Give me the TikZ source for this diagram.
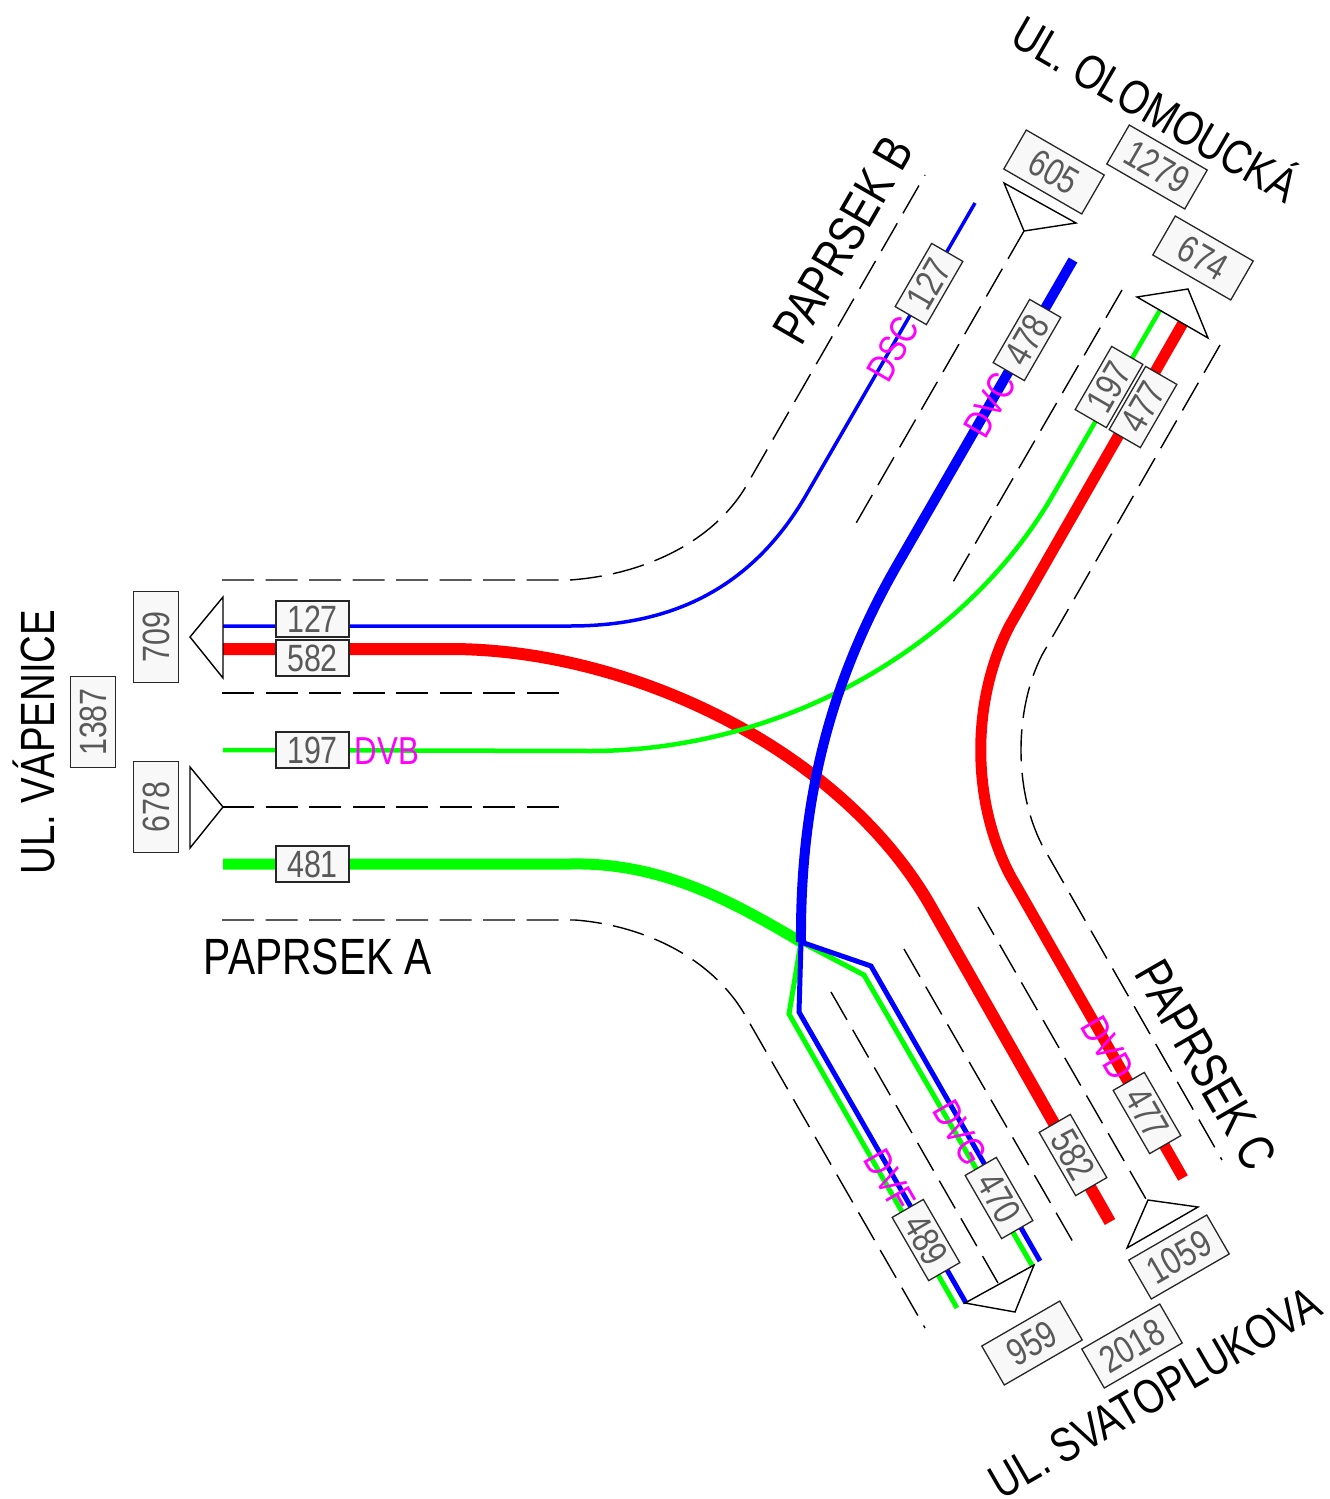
\documentclass[tikz,border=0pt]{standalone}
\usepackage{fontspec}
\setmainfont[FakeStretch=0.8]{Liberation Sans}
\usetikzlibrary{positioning,calc}
\definecolor{boxfill}{HTML}{F8F8F8}
\definecolor{boxtext}{HTML}{595959}
\definecolor{lanecode}{HTML}{FF00FF}
\tikzset{count box/.style={draw=black!85,line width=1.3pt,fill=boxfill,text=boxtext,font=\fontsize{38}{38}\selectfont,inner sep=0pt,minimum width=73pt,minimum height=36pt},
big box/.style={count box,minimum width=90pt,minimum height=45pt},
road name/.style={font=\fontsize{51}{51}\selectfont,inner sep=0pt},
street name/.style={font=\fontsize{48}{48}\selectfont,inner sep=0pt},
lane code/.style={text=lanecode,font=\fontsize{39}{39}\selectfont,inner sep=0pt},
flow/.style={line width=#1,line cap=butt,line join=miter},
kerb/.style={black,line width=1.4pt,dash pattern=on 32pt off 11.5pt},
arm mark/.style={black,line width=1.4pt,line join=miter,fill=white}}

\begin{document}
\begin{tikzpicture}[x=1pt,y=-1pt]
\useasboundingbox (0,0) rectangle (1330,1499);
\coordinate (junction) at (801,942);
% kerbs and lane dividers
\draw[kerb] (222,580) -- (570,580) .. controls (640,575) and (710,545) .. (745,488) -- (925,175);
\draw[kerb] (222,693) -- (560,693);
\draw[kerb] (222,807) -- (560,807);
\draw[kerb] (222,920) -- (575,920) .. controls (640,925) and (710,955) .. (745,1015) -- (925,1328);
\draw[kerb] (1024,231) -- (855,525);
\draw[kerb] (1122,290) -- (953,582);
\draw[kerb] (1220,345) -- (1042,655) .. controls (1014,710) and (1014,790) .. (1042,845) -- (1222,1160);
\draw[kerb] (831,992) -- (998,1283);
\draw[kerb] (904,949) -- (1073,1242);
\draw[kerb] (978,907) -- (1146,1199);
% flows
\draw[flow=3.5pt,blue] (223,626) -- (570,626) .. controls (670,626) and (750,590) .. (805,497) -- (975,203);
\draw[flow=12pt,red] (223,649) -- (450,649) .. controls (630,649) and (840,749) .. (930,905) -- (1110,1222);
\draw[flow=4.5pt,green] (223,750) -- (590,751) .. controls (780,751) and (960,650) .. (1050,500) -- (1160,310);
\draw[flow=11pt,red] (1183,323) -- (1010,625) .. controls (971,700) and (971,800) .. (1010,875) -- (1183,1178);
\draw[flow=11pt,green] (223,864) -- (570,864) .. controls (660,862) and (730,900) .. (junction);
\draw[flow=5pt,green] (junction) -- (864,975) -- (1033,1267);
\draw[flow=5pt,green] (junction) -- (789,1014) -- (957,1308);
\draw[flow=5pt,blue] (junction) -- (871,966) -- (1040,1261);
\draw[flow=5pt,blue] (junction) -- (799,1012) -- (966,1303);
\draw[flow=10pt,blue] (1073,260) -- (900,560) .. controls (830,680) and (800,800) .. (junction);
% arm marks
\draw[arm mark] (223,597) -- (223,678) -- (190,637) -- cycle;
\draw[arm mark] (190,767) -- (190,848) -- (223,807) -- cycle;
\draw[arm mark] (1004,183) -- (1076,223) -- (1024,231) -- cycle;
\draw[arm mark] (1137,297) -- (1188,289) -- (1208,338) -- cycle;
\draw[arm mark] (965,1303) -- (1034,1265) -- (1015,1312) -- cycle;
\draw[arm mark] (1127,1248) -- (1198,1207) -- (1148,1200) -- cycle;
% west arm
\node[count box,rotate=90,minimum width=91pt,minimum height=45pt] (w709) at (156,637) {709};
\node[count box,rotate=90,minimum width=91pt,minimum height=45pt] (w1387) at (93,722) {1387};
\node[count box,rotate=90,minimum width=91pt,minimum height=45pt] (w678) at (156,807) {678};
\node[count box] (w127) at (312.5,619) {127};
\node[count box] (w582) at (312.5,658) {582};
\node[count box] (w197) at (312.5,750) {197};
\node[count box] (w481) at (312.5,864) {481};
% north arm
\node[big box,rotate=-30] (n605) at (1054,172) {605};
\node[big box,rotate=-30] (n1279) at (1157,167) {1279};
\node[big box,rotate=-30] (n674) at (1203,258) {674};
\node[count box,rotate=60] (n127) at (929,284) {127};
\node[count box,rotate=60] (n478) at (1027,340) {478};
\node[count box,rotate=60] (n197) at (1109,387) {197};
\node[count box,rotate=60] (n477) at (1143,407) {477};
% south arm
\node[count box,rotate=-60] (s582) at (1073,1155) {582};
\node[count box,rotate=-60] (s477) at (1147,1113) {477};
\node[count box,rotate=-60] (s470) at (999,1198) {470};
\node[count box,rotate=-60] (s489) at (926,1240) {489};
\node[big box,rotate=30] (s959) at (1032,1343) {959};
\node[big box,rotate=30] (s2018) at (1132,1346) {2018};
\node[big box,rotate=30] (s1059) at (1179,1257) {1059};
% lane codes
\node[lane code] (cDVB) at (387,751) {DVB};
\node[lane code,rotate=60] (cDSC) at (893,349) {DSC};
\node[lane code,rotate=60] (cDVC) at (990,405) {DVC};
\node[lane code,rotate=-60] (cDVD) at (1108,1048) {DVD};
\node[lane code,rotate=-60] (cDVG) at (960,1133) {DVG};
\node[lane code,rotate=-60] (cDVF) at (890,1180) {DVF};
% road names
\node[road name] (paprsekA) at (318,957) {PAPRSEK A};
\node[road name,rotate=60] (paprsekB) at (843,240) {PAPRSEK B};
\node[road name,rotate=-60] (paprsekC) at (1206,1065) {PAPRSEK C};
\node[street name,rotate=90] (vapenice) at (34,742) {UL. VÁPENICE};
\node[street name,rotate=-30] (olomoucka) at (1157,106) {UL. OLOMOUCKÁ};
\node[street name,rotate=30] (svatoplukova) at (1155,1393) {UL. SVATOPLUKOVA};
\end{tikzpicture}
\end{document}
